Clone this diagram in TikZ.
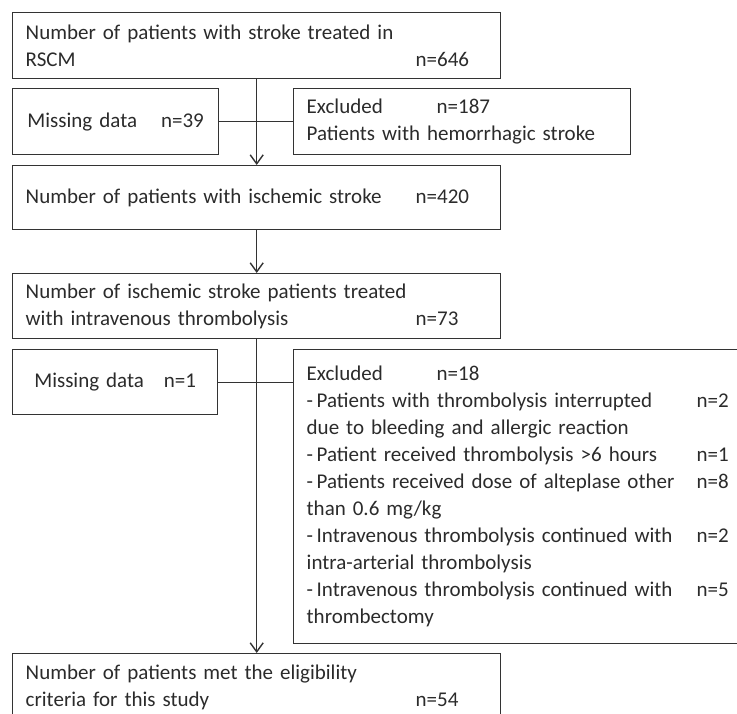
\documentclass[tikz,border=0pt]{standalone}
\usepackage{fontspec}
\setmainfont{Carlito}
\usetikzlibrary{arrows.meta,positioning}
\definecolor{boxline}{HTML}{333333}
\definecolor{boxtext}{HTML}{2B2B2B}
\newcommand{\ncol}[2]{\makebox[#1][l]{#2}}

\begin{document}
\begin{tikzpicture}[x=1pt,y=-1pt,
    flowbox/.style={draw=boxline,line width=1.4pt,rectangle,anchor=north west,inner xsep=13pt,inner ysep=0pt,
      align=left,text=boxtext,font=\fontsize{21}{27}\selectfont},
    sidebox/.style={flowbox,align=center},
    flowline/.style={draw=boxline,line width=1.4pt},
    flowarrow/.style={flowline,-{Straight Barb[length=9pt,width=13pt]}}]
  \useasboundingbox (0,0) rectangle (737,714);
  % main column
  \node[flowbox,text width=462pt,minimum height=66pt] (stroke) at (12,12)
    {Number of patients with stroke treated in\\\ncol{390pt}{RSCM}n=646};
  \node[flowbox,text width=462pt,minimum height=64pt] (ischemic) at (12,165)
    {\ncol{390pt}{Number of patients with ischemic stroke}n=420};
  \node[flowbox,text width=462pt,minimum height=65pt] (ivt) at (12,273)
    {Number of ischemic stroke patients treated\\\ncol{390pt}{with intravenous thrombolysis}n=73};
  \node[flowbox,text width=462pt,minimum height=67pt] (eligible) at (12,653)
    {Number of patients met the eligibility\\\ncol{390pt}{criteria for this study}n=54};
  % side boxes
  \node[sidebox,text width=180pt,minimum height=66pt] (missA) at (12,88) {Missing data\hspace{24pt}n=39};
  \node[flowbox,text width=311pt,minimum height=66pt] (exclA) at (293,88)
    {\ncol{130pt}{Excluded}n=187\\Patients with hemorrhagic stroke};
  \node[sidebox,text width=179pt,minimum height=65pt] (missB) at (12,349) {Missing data\hspace{20pt}n=1};
  \node[flowbox,text width=423pt,minimum height=294pt] (exclB) at (293,349)
    {\ncol{130pt}{Excluded}n=18\\
     \ncol{390pt}{-\,Patients with thrombolysis interrupted}n=2\\
     due to bleeding and allergic reaction\\
     \ncol{390pt}{-\,Patient received thrombolysis >6 hours}n=1\\
     \ncol{390pt}{-\,Patients received dose of alteplase other}n=8\\
     than 0.6 mg/kg\\
     \ncol{390pt}{-\,Intravenous thrombolysis continued with}n=2\\
     intra-arterial thrombolysis\\
     \ncol{390pt}{-\,Intravenous thrombolysis continued with}n=5\\
     thrombectomy};
  % connectors
  \draw[flowarrow] (stroke.south) -- (ischemic.north);
  \draw[flowline] (missA.east) -- (exclA.west);
  \draw[flowarrow] (ischemic.south) -- (ivt.north);
  \draw[flowarrow] (ivt.south) -- (eligible.north);
  \draw[flowline] (missB.east) -- (missB.east -| exclB.west);
\end{tikzpicture}
\end{document}
